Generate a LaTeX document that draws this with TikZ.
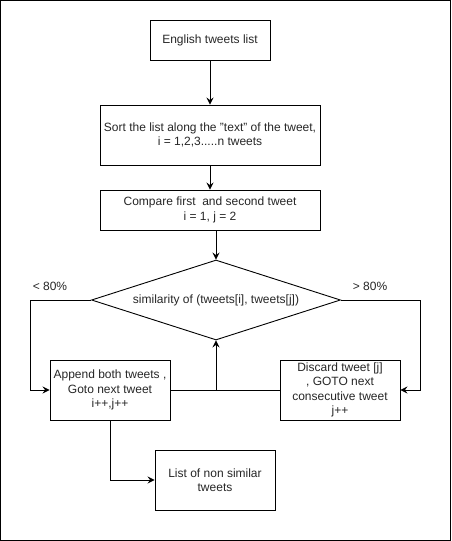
\documentclass[tikz,border=0pt]{standalone}
\usepackage{fontspec}
\setmainfont[Ligatures=NoCommon]{Liberation Sans}
\usetikzlibrary{arrows.meta,shapes.geometric}
\begin{document}
\begin{tikzpicture}[x=1pt,y=-1pt,
  every node/.style={font=\fontsize{12}{14.4}\selectfont, text=black!85},
  box/.style={draw, line width=0.9pt, align=center, inner sep=0pt},
  conn/.style={line width=0.9pt, -{Stealth[length=7pt,width=7pt,inset=2.5pt]}},
  plain/.style={line width=0.9pt}]
\useasboundingbox (0,0) rectangle (451,541);
\draw[line width=1pt] (0.5,0.5) rectangle (450.5,540.5);
\node[box, minimum width=120pt, minimum height=40pt] (b1) at (210,40) {English tweets list};
\node[box, minimum width=220pt, minimum height=60pt] (b2) at (210,135) {Sort the list along the \symbol{34}text\symbol{34} of the tweet,\\ i = 1,2,3.....n tweets};
\node[box, minimum width=220pt, minimum height=40pt] (b3) at (210,210) {Compare first\ \ and second tweet\\ i = 1, j = 2};
\node[diamond, draw, line width=0.9pt, aspect=3.1, minimum width=249pt, minimum height=80pt, inner sep=0pt] (d) at (216,300) {};
\node at (216,300) {similarity of (tweets[i], tweets[j])};
\node[box, minimum width=120pt, minimum height=60pt] (b4) at (110,390) {Append both tweets ,\\ Goto next tweet\\ i++,j++};
\node[box, minimum width=120pt, minimum height=60pt] (b5) at (340,390) {Discard tweet [j]\\ , GOTO next\\ consecutive tweet\\ j++};
\node[box, minimum width=120pt, minimum height=60pt] (b6) at (215,480) {List of non similar\\ tweets};
\node (l1) at (50,286) {< 80\%};
\node (l2) at (370,286) {> 80\%};
\coordinate (jn) at (216,390);
\coordinate (lc) at (30,300);
\coordinate (rc) at (420,300);
\draw[conn] (b1) -- (b2);
\draw[conn] (b2) -- (b3);
\draw[conn] (b3.south -| d.north) -- (d.north);
\draw[conn] (d.west) -- (lc) |- (b4.west);
\draw[conn] (d.east) -- (rc) |- (b5.east);
\draw[plain] (b4.east) -- (b5.west);
\draw[conn] (jn) -- (d.south);
\draw[conn] (b4.south) |- (b6.west);
\end{tikzpicture}
\end{document}
